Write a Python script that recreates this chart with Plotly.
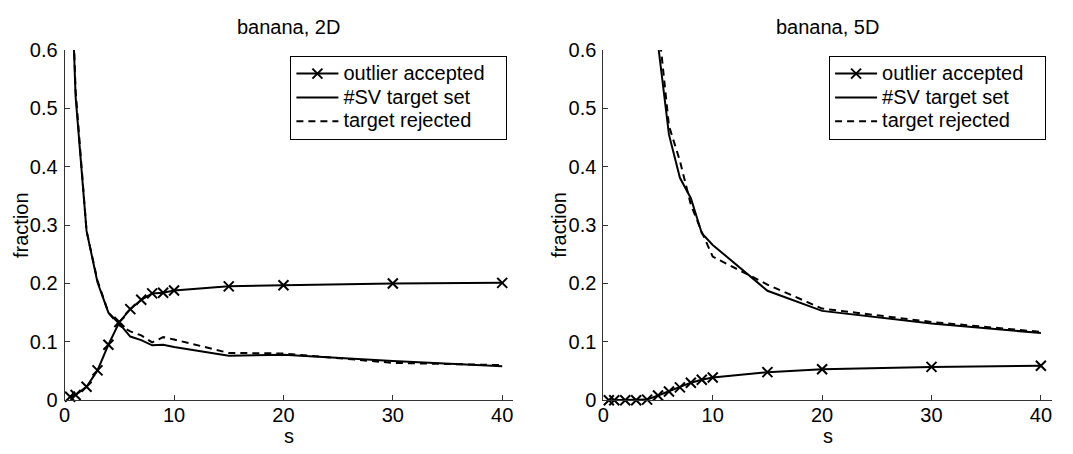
import plotly.graph_objects as go

# ---------------- data ----------------
s = [0.5, 1, 2, 3, 4, 5, 6, 7, 8, 9, 10, 15, 20, 30, 40]

# banana, 2D
out_acc_2d = [0.006, 0.009, 0.023, 0.051, 0.095, 0.134, 0.156, 0.172, 0.183, 0.184, 0.188, 0.195, 0.197, 0.200, 0.201]
sv_2d      = [0.79, 0.52, 0.29, 0.202, 0.150, 0.131, 0.109, 0.103, 0.094, 0.095, 0.091, 0.076, 0.078, 0.067, 0.058]
rej_2d     = [0.80, 0.53, 0.29, 0.205, 0.150, 0.128, 0.118, 0.111, 0.099, 0.108, 0.104, 0.081, 0.080, 0.064, 0.060]

# banana, 5D
out_acc_5d = [0.0, 0.0, 0.0, 0.0, 0.001, 0.008, 0.015, 0.022, 0.030, 0.035, 0.039, 0.048, 0.053, 0.057, 0.059]
sv_5d      = [None, None, None, None, None, 0.61, 0.455, 0.381, 0.346, 0.286, 0.266, 0.1875, 0.153, 0.1315, 0.115]
rej_5d     = [None, None, None, None, None, 0.65, 0.47, 0.41, 0.335, 0.288, 0.246, 0.198, 0.157, 0.134, 0.117]

titles = ["banana, 2D", "banana, 5D"]
legend_names = ["outlier accepted", "#SV target set", "target rejected"]
x_ticks = [0, 10, 20, 30, 40]
y_ticks = [0, 0.1, 0.2, 0.3, 0.4, 0.5, 0.6]
y_tick_text = ["0", "0.1", "0.2", "0.3", "0.4", "0.5", "0.6"]

# ---------------- layout geometry ----------------
W, H = 1073, 454
FONT = "Liberation Sans, Arial, Helvetica, sans-serif"
panel_px = [(59.0, 510.0), (600.7, 1051.7)]
y_top_px, y_bot_px = 41.0, 409.0


def legend_label(name, pad=0):
    # rows are spaced by the legend's base font size; the label itself is drawn at 20px
    return '<span style="font-size:20px">' + name + "\u00a0" * pad + "</span>"


fig = go.Figure()

panels = [(out_acc_2d, sv_2d, rej_2d), (out_acc_5d, sv_5d, rej_5d)]
for i, (acc, sv, rej) in enumerate(panels):
    xa = "x" if i == 0 else "x2"
    ya = "y" if i == 0 else "y2"
    lg = "legend" if i == 0 else "legend2"
    fig.add_trace(go.Scatter(
        x=s, y=acc, mode="lines+markers", name=legend_label(legend_names[0], pad=3),
        line=dict(color="black", width=2),
        marker=dict(symbol="x-thin", size=10, color="black", line=dict(color="black", width=2)),
        xaxis=xa, yaxis=ya, legend=lg, cliponaxis=False))
    fig.add_trace(go.Scatter(
        x=s, y=sv, mode="lines", name=legend_label(legend_names[1]),
        line=dict(color="black", width=2),
        xaxis=xa, yaxis=ya, legend=lg))
    fig.add_trace(go.Scatter(
        x=s, y=rej, mode="lines", name=legend_label(legend_names[2]),
        line=dict(color="black", width=2, dash="7px,5px"),
        xaxis=xa, yaxis=ya, legend=lg))

axis_common = dict(
    showline=True, linecolor="#333333", linewidth=1,
    ticks="inside", ticklen=5, tickwidth=1, tickcolor="#333333",
    showgrid=False, zeroline=False, mirror=False,
    tickfont=dict(family=FONT, size=20, color="black"),
)

dom_y = [1 - y_bot_px / H, 1 - y_top_px / H]
for i, (l, r) in enumerate(panel_px):
    sfx = "" if i == 0 else "2"
    fig.update_layout(**{
        "xaxis" + sfx: dict(axis_common, domain=[l / W, r / W], range=[0, 41],
                            tickvals=x_ticks, anchor="y" + sfx, ticklabelstandoff=-3),
        "yaxis" + sfx: dict(axis_common, domain=dom_y, range=[0, 0.6],
                            tickvals=y_ticks, ticktext=y_tick_text,
                            anchor="x" + sfx, ticklabelstandoff=2),
    })

annotations = []
for i, (l, r) in enumerate(panel_px):
    cx = (l + r) / 2
    annotations.append(dict(text=titles[i], x=cx / W, y=1 - 17 / H, xref="paper", yref="paper",
                            xanchor="center", yanchor="middle", showarrow=False,
                            font=dict(family=FONT, size=20, color="black")))
    annotations.append(dict(text="s", x=cx / W, y=1 - 447 / H, xref="paper", yref="paper",
                            xanchor="center", yanchor="middle", showarrow=False,
                            font=dict(family=FONT, size=20, color="black")))
    annotations.append(dict(text="fraction", x=(l - 44) / W, y=1 - 225 / H, xref="paper", yref="paper",
                            xanchor="center", yanchor="middle", showarrow=False, textangle=-90,
                            font=dict(family=FONT, size=20, color="black")))

legend_common = dict(
    xref="paper", yref="paper", xanchor="left", yanchor="top",
    bgcolor="white", bordercolor="black", borderwidth=1,
    font=dict(family=FONT, size=16, color="black"),
    tracegroupgap=0, itemwidth=42,
)

fig.update_layout(
    width=W, height=H,
    margin=dict(l=0, r=0, t=0, b=0),
    paper_bgcolor="white", plot_bgcolor="white",
    showlegend=True,
    legend=dict(legend_common, x=286 / W, y=1 - 47 / H),
    legend2=dict(legend_common, x=(286 + 541.7) / W, y=1 - 47 / H),
    annotations=annotations,
)

fig.write_html("out.html")
